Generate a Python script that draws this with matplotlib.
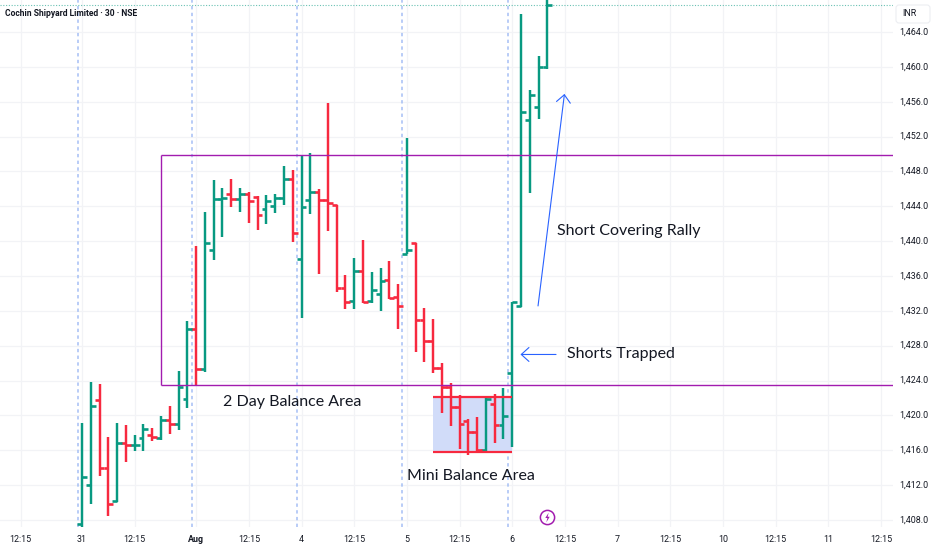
import matplotlib
matplotlib.use('Agg')
import numpy as np
from matplotlib import pyplot as plt
from matplotlib.path import Path
from matplotlib.patches import FancyBboxPatch, Rectangle
from matplotlib.ticker import FixedLocator
from matplotlib.transforms import IdentityTransform

GREEN = '#089981'
RED = '#f7293f'
PURPLE = '#a21caf'
BLUE = '#2962ff'
INK = '#131722'

opens = [1407.5, 1412.02, 1421.81, 1413.93, 1410.22, 1416.87, 1416.57, 1417.37, 1417.79, 1417.37,
         1419.48, 1419.02, 1421.93, 1429.92, 1425.29, 1438.95, 1444.87, 1445.45, 1444.80, 1445.45,
         1445.03, 1443.65, 1444.07, 1444.91, 1447.17, 1437.91, 1444.76, 1445.67, 1444.76, 1444.11,
         1434.66, 1433.17, 1436.61, 1433.17, 1433.93, 1435.54, 1433.62, 1438.52, 1439.74, 1430.95,
         1428.54, 1425.44, 1423.26, 1421.00, 1419.40, 1418.10, 1415.99, 1421.31, 1418.86, 1424.83,
         1432.56, 1453.90, 1455.43, 1459.94]
highs = [1419.09, 1423.80, 1423.57, 1417.56, 1419.13, 1418.86, 1417.72, 1418.98, 1418.56, 1419.90,
         1421.12, 1425.14, 1430.84, 1439.44, 1443.31, 1447.02, 1446.06, 1447.09, 1446.06, 1445.68,
         1445.18, 1445.26, 1445.41, 1448.66, 1448.16, 1449.77, 1450.07, 1446.02, 1455.81, 1444.11,
         1436.07, 1438.02, 1440.09, 1436.46, 1436.88, 1437.68, 1435.08, 1451.87, 1439.74, 1432.37,
         1431.03, 1426.05, 1423.76, 1422.31, 1419.63, 1419.78, 1422.08, 1422.46, 1423.15, 1433.00,
         1466.03, 1457.34, 1461.24, 1469.00]
lows = [1407.16, 1409.80, 1413.09, 1408.50, 1410.10, 1414.66, 1415.96, 1415.96, 1417.03, 1417.22,
        1417.87, 1418.29, 1420.89, 1423.34, 1425.02, 1437.84, 1440.51, 1443.88, 1443.38, 1442.12,
        1441.28, 1441.97, 1443.23, 1444.15, 1439.94, 1431.14, 1443.15, 1436.19, 1441.16, 1434.12,
        1432.17, 1432.25, 1432.86, 1432.86, 1432.02, 1433.40, 1429.88, 1438.52, 1427.30, 1426.09,
        1424.91, 1420.24, 1418.79, 1416.19, 1415.42, 1415.88, 1415.88, 1416.87, 1417.26, 1416.41,
        1432.40, 1445.56, 1453.98, 1459.71]
closes = [1412.97, 1421.12, 1413.93, 1409.84, 1416.87, 1416.57, 1416.65, 1418.45, 1417.56, 1419.48,
          1419.02, 1423.23, 1429.92, 1425.29, 1439.75, 1444.87, 1444.95, 1444.80, 1445.45, 1444.57,
          1442.96, 1444.57, 1444.91, 1447.17, 1440.90, 1443.96, 1445.67, 1444.76, 1444.34, 1434.66,
          1432.97, 1436.61, 1432.97, 1434.35, 1435.42, 1433.47, 1432.52, 1438.98, 1430.95, 1428.54,
          1425.44, 1423.26, 1421.00, 1418.98, 1418.10, 1415.99, 1421.92, 1418.86, 1419.97, 1433.00,
          1454.86, 1456.77, 1459.94, 1467.13]

day_ticks = [0, 13, 25, 37, 49, 61, 73, 85]
day_labels = ['31', 'Aug', '4', '5', '6', '7', '10', '11']
time_ticks = [-7, 6, 19, 31, 43, 55, 67, 79, 91]
price_ticks = np.arange(1408, 1468, 4)
session_breaks = [-0.5, 12.5, 24.5, 36.5, 48.5]

balance_top, balance_bottom = 1449.9, 1423.5
mini_top, mini_bottom = 1422.15, 1415.8

fig = plt.figure(figsize=(9.32, 5.5), dpi=100)
ax = fig.add_axes([0, 23 / 550, 893 / 932, 527 / 550])
ax.set_xlim(-9.34, 92.37)
ax.set_ylim(1407.19, 1467.67)
for side in ax.spines.values():
    side.set_visible(False)

# grid
ax.set_axisbelow(True)
ax.xaxis.set_major_locator(FixedLocator(sorted(day_ticks + time_ticks)))
ax.yaxis.set_major_locator(FixedLocator(price_ticks))
ax.grid(color='#f2f3f6', linewidth=0.9)
ax.tick_params(length=0, labelbottom=False, labelleft=False)

for t in session_breaks:
    ax.axvline(t, color='#a5bff5', linewidth=1.1, linestyle=(0, (2.2, 2.2)), zorder=1)

# range boxes
ax.add_patch(Rectangle((40, mini_bottom), 9, mini_top - mini_bottom,
                       facecolor='#d1dcf9', edgecolor='none', zorder=1.5))
ax.hlines([balance_top, balance_bottom], 9, 200, color=PURPLE, linewidth=1.0, zorder=4)
ax.vlines(9, balance_bottom, balance_top, color=PURPLE, linewidth=1.0, zorder=4)
ax.hlines([mini_top, mini_bottom], 40, 49, color=RED, linewidth=1.6, zorder=4)

# ohlc bars
x = np.arange(len(opens))
colors = [GREEN if c >= o else RED for o, c in zip(opens, closes)]
ax.vlines(x, lows, highs, colors=colors, linewidth=1.75, zorder=3)
ax.hlines(opens, x - 0.55, x, colors=colors, linewidth=1.9, zorder=3)
ax.hlines(closes, x, x + 0.55, colors=colors, linewidth=1.9, zorder=3)

# last price line
ax.axhline(closes[-1], color=GREEN, alpha=0.6, linewidth=0.8, linestyle=(0, (1, 1.5)), zorder=2)

# drawn arrows and notes
head = '->,head_length=0.55,head_width=0.5'
ax.annotate('', xy=(54.95, 1456.89), xytext=(51.94, 1432.56),
            arrowprops=dict(arrowstyle=head, color=BLUE, linewidth=0.8, shrinkA=0, shrinkB=0), zorder=5)
ax.annotate('', xy=(49.94, 1426.99), xytext=(53.99, 1426.99),
            arrowprops=dict(arrowstyle=head, color=BLUE, linewidth=0.8, shrinkA=0, shrinkB=0), zorder=5)

note = dict(fontsize=11.5, color=INK, family='Lato', va='center')
ax.text(23.9, 1421.54, '2 Day Balance Area', ha='center', **note)
ax.text(44.3, 1413.05, 'Mini Balance Area', ha='center', **note)
ax.text(62.3, 1441.16, 'Short Covering Rally', ha='center', **note)
ax.text(55.24, 1427.05, 'Shorts Trapped', ha='left', **note)

# lightning badge
bolt = Path([(0.25, 1), (-0.45, -0.1), (-0.02, -0.1), (-0.25, -1), (0.45, 0.15), (0.02, 0.15), (0.25, 1)])
ax.scatter([53], [1408.34], s=105, facecolors='white', edgecolors=PURPLE, linewidths=1.1, zorder=6)
ax.scatter([53], [1408.34], s=50, marker=bolt, color=PURPLE, linewidths=0, zorder=7)

# axis text
axis_text = dict(fontsize=6.4, color=INK, family='Roboto', va='center', annotation_clip=False)
for price in price_ticks:
    ax.annotate(f'{price:,.1f}', xy=(1, price), xycoords=('axes fraction', 'data'),
                xytext=(6, 0), textcoords='offset pixels', ha='left', **axis_text)
for t, label in zip(day_ticks, day_labels):
    ax.annotate(label, xy=(t, 0), xycoords=('data', 'axes fraction'),
                xytext=(0, -12), textcoords='offset pixels', ha='center',
                weight='bold' if label == 'Aug' else 'normal', **axis_text)
for t in time_ticks:
    ax.annotate('12:15', xy=(t, 0), xycoords=('data', 'axes fraction'),
                xytext=(0, -12), textcoords='offset pixels', ha='center', **axis_text)

fig.text(5 / 932, 1 - 13 / 550, 'Cochin Shipyard Limited · 30 · NSE', fontsize=6.15, color=INK,
         family='Roboto', weight='bold', va='center', ha='left')

# currency box
fig.add_artist(FancyBboxPatch((896, 527), 34, 18, boxstyle='round,pad=0,rounding_size=3',
                              facecolor='white', edgecolor='#eceef2', linewidth=0.8,
                              transform=IdentityTransform()))
fig.text(902 / 932, 1 - 14 / 550, 'INR', fontsize=6.4, color=INK, family='Roboto', va='center', ha='left')

fig.savefig('out.png', dpi=100)
